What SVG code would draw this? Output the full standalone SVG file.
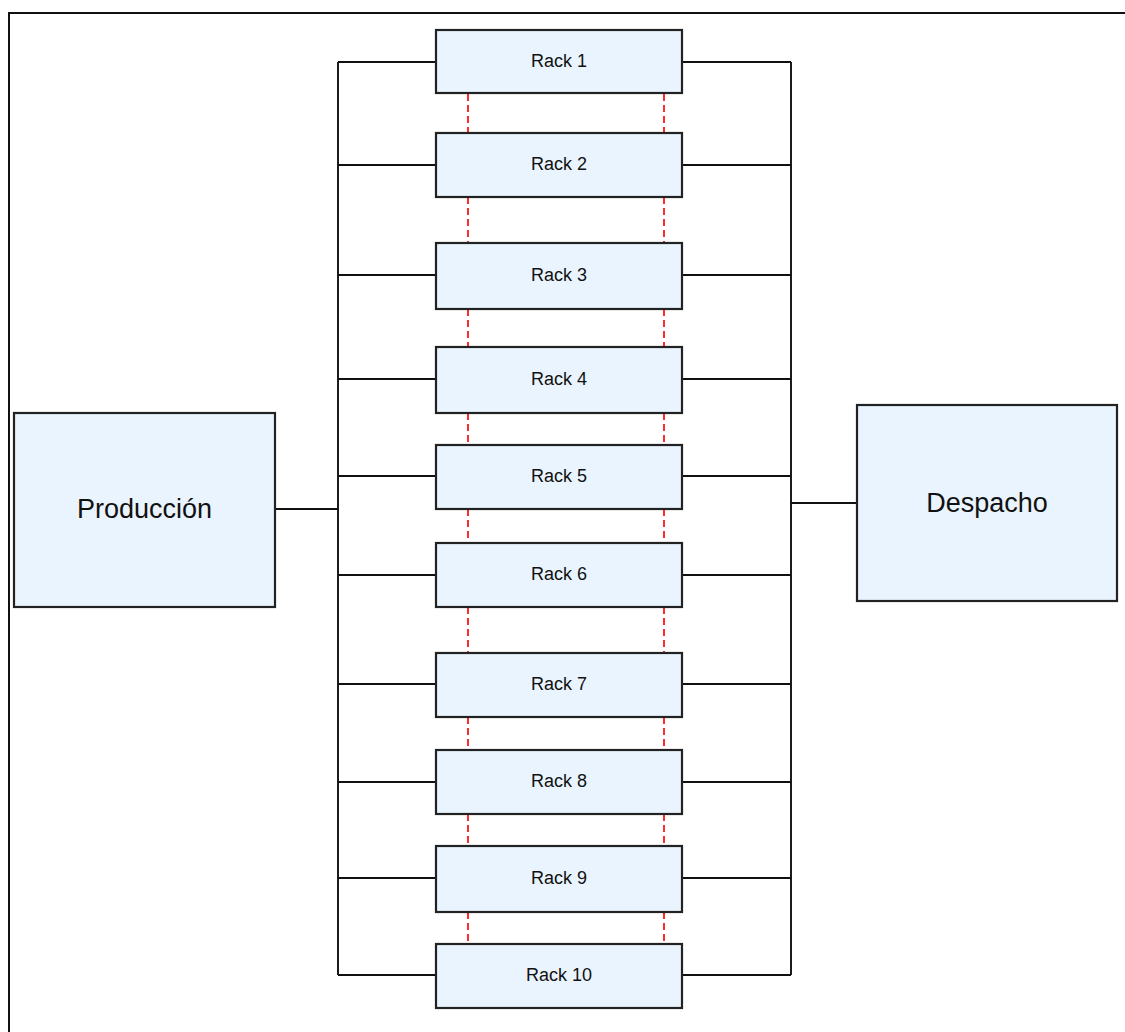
<svg xmlns="http://www.w3.org/2000/svg" width="1125" height="1032" viewBox="0 0 1125 1032">
<style>
.box{fill:#e9f4fe;stroke:#222;stroke-width:2.2}
.rt{font-family:"Liberation Sans",Arial,sans-serif;font-size:18px;fill:#111;text-anchor:middle}
.bt{font-family:"Liberation Sans",Arial,sans-serif;font-size:27px;fill:#111;text-anchor:middle}
.ln{fill:none;stroke:#111;stroke-width:1.9}
.dl{fill:none;stroke:#f22;stroke-width:1.9;stroke-dasharray:7 4}
</style>
<rect width="1125" height="1032" fill="#fff"/>
<path d="M9,1032 V13 H1125" fill="none" stroke="#111" stroke-width="2"/>
<g id="connectors">
<path class="ln" d="M338,62 V975 M791,62 V975"/>
<path class="ln" d="M275,509 H338 M791,503 H857"/>
<path class="ln" d="M338,62 H436 M682,62 H791"/>
<path class="ln" d="M338,165 H436 M682,165 H791"/>
<path class="ln" d="M338,275 H436 M682,275 H791"/>
<path class="ln" d="M338,379 H436 M682,379 H791"/>
<path class="ln" d="M338,476 H436 M682,476 H791"/>
<path class="ln" d="M338,575 H436 M682,575 H791"/>
<path class="ln" d="M338,684 H436 M682,684 H791"/>
<path class="ln" d="M338,782 H436 M682,782 H791"/>
<path class="ln" d="M338,878 H436 M682,878 H791"/>
<path class="ln" d="M338,975 H436 M682,975 H791"/>
<path class="dl" d="M468,94 V133 M664,94 V133"/>
<path class="dl" d="M468,197 V243 M664,197 V243"/>
<path class="dl" d="M468,309 V347 M664,309 V347"/>
<path class="dl" d="M468,413 V445 M664,413 V445"/>
<path class="dl" d="M468,509 V543 M664,509 V543"/>
<path class="dl" d="M468,607 V653 M664,607 V653"/>
<path class="dl" d="M468,717 V750 M664,717 V750"/>
<path class="dl" d="M468,814 V846 M664,814 V846"/>
<path class="dl" d="M468,912 V944 M664,912 V944"/>
</g>
<g id="produccion"><rect class="box" x="14" y="413" width="261" height="194"/><text class="bt" x="144.5" y="518">Producción</text></g>
<g id="despacho"><rect class="box" x="857" y="405" width="260" height="196"/><text class="bt" x="987" y="512">Despacho</text></g>
<g id="rack1"><rect class="box" x="436" y="30" width="246" height="63"/><text class="rt" x="559" y="67">Rack 1</text></g>
<g id="rack2"><rect class="box" x="436" y="133" width="246" height="64"/><text class="rt" x="559" y="170">Rack 2</text></g>
<g id="rack3"><rect class="box" x="436" y="243" width="246" height="66"/><text class="rt" x="559" y="281">Rack 3</text></g>
<g id="rack4"><rect class="box" x="436" y="347" width="246" height="66"/><text class="rt" x="559" y="385">Rack 4</text></g>
<g id="rack5"><rect class="box" x="436" y="445" width="246" height="64"/><text class="rt" x="559" y="482">Rack 5</text></g>
<g id="rack6"><rect class="box" x="436" y="543" width="246" height="64"/><text class="rt" x="559" y="580">Rack 6</text></g>
<g id="rack7"><rect class="box" x="436" y="653" width="246" height="64"/><text class="rt" x="559" y="690">Rack 7</text></g>
<g id="rack8"><rect class="box" x="436" y="750" width="246" height="64"/><text class="rt" x="559" y="787">Rack 8</text></g>
<g id="rack9"><rect class="box" x="436" y="846" width="246" height="66"/><text class="rt" x="559" y="884">Rack 9</text></g>
<g id="rack10"><rect class="box" x="436" y="944" width="246" height="64"/><text class="rt" x="559" y="981">Rack 10</text></g>
</svg>
